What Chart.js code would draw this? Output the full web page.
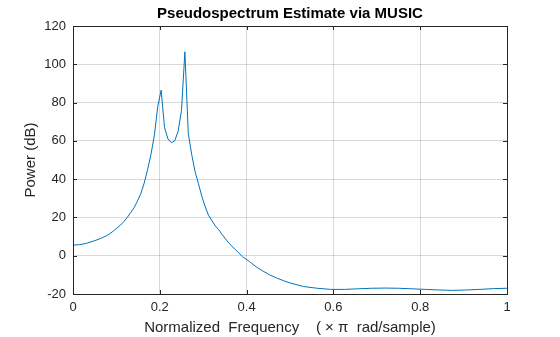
<!DOCTYPE html>
<html>
  <head>
    <title>Pseudospectrum Estimate via MUSIC</title>
    <script src="https://cdn.jsdelivr.net/npm/chart.js"></script>
    <style>
      body { margin: 0; background: #fff; }
    </style>
  </head>
  <body>
    <canvas id="myChart" width="560" height="337"></canvas>
  </body>
</html>
<script>
//------------------------------------------------------------------------------
// data
//------------------------------------------------------------------------------
var freq = [0, 0.0156, 0.0313, 0.0469, 0.0625, 0.0781, 0.0938, 0.1094, 0.1172, 0.125,
            0.1328, 0.1406, 0.1484, 0.1563, 0.1641, 0.1719, 0.1797, 0.1875, 0.1953, 0.2031,
            0.2109, 0.2188, 0.2266, 0.2344, 0.2422, 0.25, 0.2578, 0.2656, 0.2734, 0.2813,
            0.2891, 0.2969, 0.3047, 0.3125, 0.3281, 0.3359, 0.3438, 0.3594, 0.375, 0.3906,
            0.4063, 0.4219, 0.4375, 0.4531, 0.4688, 0.4844, 0.5, 0.5313, 0.5625, 0.5938,
            0.625, 0.6563, 0.6875, 0.7188, 0.75, 0.7813, 0.8125, 0.8438, 0.875, 0.9063,
            0.9375, 0.9688, 1];
var power = [5.5, 5.8, 6.5, 7.6, 8.9, 10.5, 13, 16, 17.8, 20,
             22.5, 25, 28.5, 32.5, 38, 45, 53, 63, 78, 86.5,
             67, 61, 59, 60, 65, 76, 106.5, 64, 53, 44,
             37.5, 31, 25.5, 21, 15.5, 13.5, 11, 6.5, 3, -0.5,
             -3, -5.8, -8, -10, -11.6, -13, -14.2, -16.1, -17, -17.6,
             -17.6, -17.3, -17, -16.9, -17, -17.3, -17.6, -17.9, -18.1, -17.9,
             -17.6, -17.2, -17];
var xTicks = [0, 0.2, 0.4, 0.6, 0.8, 1];
var yTicks = [-20, 0, 20, 40, 60, 80, 100, 120];
var titleText = 'Pseudospectrum Estimate via MUSIC';

var points = freq.map(function(f, i) { return { x: f, y: power[i] }; });
var font = "'Liberation Sans', Arial, Helvetica, sans-serif";

//------------------------------------------------------------------------------
// box + inner ticks on all sides + title centred on the axes (MATLAB look)
//------------------------------------------------------------------------------
var boxPlugin = {
  id: 'box',
  afterDraw: function(chart) {
    var a = chart.chartArea;
    var ctx = chart.ctx;
    var xs = chart.scales.x, ys = chart.scales.y;
    ctx.save();
    ctx.strokeStyle = '#262626';
    ctx.lineWidth = 1;
    ctx.beginPath();
    xTicks.forEach(function(t) {
      var px = Math.round(xs.getPixelForValue(t)) + 0.5;
      ctx.moveTo(px, a.bottom); ctx.lineTo(px, a.bottom - 4);
      ctx.moveTo(px, a.top); ctx.lineTo(px, a.top + 4);
    });
    yTicks.forEach(function(t) {
      var py = Math.round(ys.getPixelForValue(t)) + 0.5;
      ctx.moveTo(a.left, py); ctx.lineTo(a.left + 4, py);
      ctx.moveTo(a.right, py); ctx.lineTo(a.right - 4, py);
    });
    ctx.stroke();
    ctx.strokeRect(Math.round(a.left) + 0.5, Math.round(a.top) + 0.5,
                   Math.round(a.right - a.left), Math.round(a.bottom - a.top));

    ctx.fillStyle = '#000';
    ctx.font = 'bold 15px ' + font;
    ctx.textAlign = 'center';
    ctx.textBaseline = 'middle';
    ctx.fillText(titleText, (a.left + a.right) / 2, 14);
    ctx.restore();
  }
};

//------------------------------------------------------------------------------
// chart
//------------------------------------------------------------------------------
var ctx = document.getElementById('myChart').getContext('2d');
var chart = new Chart(ctx, {
  type: 'line',
  data: {
    datasets: [{
      data: points,
      borderColor: '#0072BD',
      borderWidth: 1,
      pointRadius: 0,
      fill: false,
      tension: 0
    }]
  },
  options: {
    responsive: false,
    animation: false,
    devicePixelRatio: 1,
    layout: { padding: { left: 0, right: 53, top: 26, bottom: 0 } },
    plugins: {
      legend: { display: false },
      tooltip: { enabled: false },
      title: { display: false }
    },
    scales: {
      x: {
        type: 'linear',
        min: 0,
        max: 1,
        afterFit: function(s) { s.height = 43; },
        afterBuildTicks: function(s) { s.ticks = xTicks.map(function(v) { return { value: v }; }); },
        ticks: {
          color: '#262626',
          font: { family: font, size: 13 },
          padding: 6,
          maxRotation: 0,
          callback: function(v) { return String(v); }
        },
        grid: { color: 'rgba(0,0,0,0.15)', drawTicks: false },
        border: { display: false },
        title: {
          display: true,
          text: 'Normalized  Frequency    ( \u00d7 \u03c0  rad/sample)',
          color: '#262626',
          font: { family: font, size: 15 },
          padding: { top: 0, bottom: 0 }
        }
      },
      y: {
        min: -20,
        max: 120,
        afterFit: function(s) { s.width = 73; },
        afterBuildTicks: function(s) { s.ticks = yTicks.map(function(v) { return { value: v }; }); },
        ticks: {
          color: '#262626',
          font: { family: font, size: 13 },
          padding: 7
        },
        grid: { color: 'rgba(0,0,0,0.15)', drawTicks: false },
        border: { display: false },
        title: {
          display: true,
          text: 'Power (dB)',
          color: '#262626',
          font: { family: font, size: 15 },
          padding: { top: 22, bottom: 0 }
        }
      }
    }
  },
  plugins: [boxPlugin]
});
</script>
